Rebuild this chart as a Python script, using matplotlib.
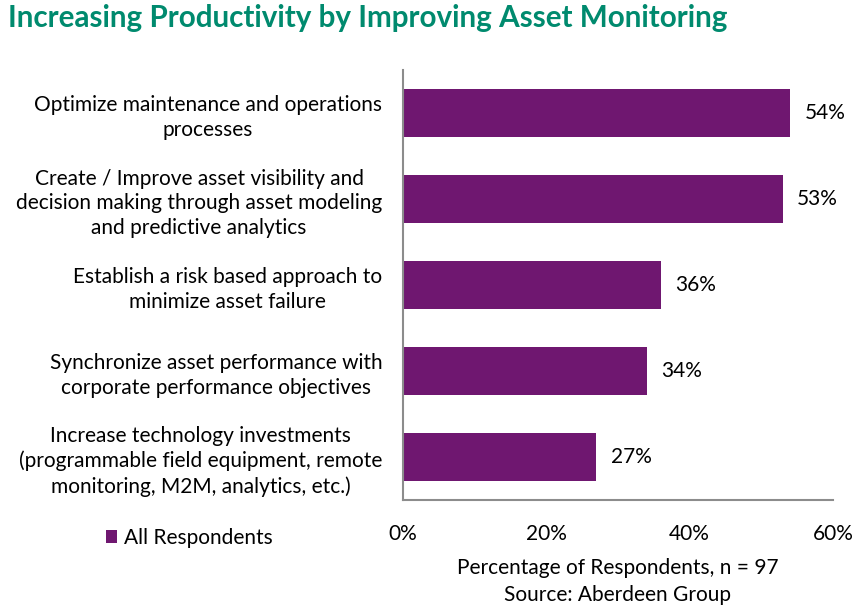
import numpy as np
from matplotlib import pyplot as plt

categories = [
    "Optimize maintenance and operations\nprocesses",
    "Create / Improve asset visibility and\ndecision making through asset modeling\nand predictive analytics",
    "Establish a risk based approach to\nminimize asset failure",
    "Synchronize asset performance with\ncorporate performance objectives",
    "Increase technology investments\n(programmable field equipment, remote\nmonitoring, M2M, analytics, etc.)",
]
values = [54, 53, 36, 34, 27]
xticks = [0, 20, 40, 60]

purple = '#6F1770'
green = '#008A6E'
plt.rcParams['font.family'] = ['Lato', 'DejaVu Sans']

fig = plt.figure(figsize=(8.62, 6.09), dpi=100)
ax = fig.add_axes([403/862, 109/609, 430/862, 430/609])

y = np.arange(len(values))[::-1]
ax.barh(y, values, height=0.56, color=purple, label='All Respondents')
for yi, v in zip(y, values):
    ax.text(v + 2.0, yi, f"{v}%", va='center', ha='left', fontsize=15)

ax.set_xlim(0, 60)
ax.set_ylim(-0.5, len(values) - 0.5)
ax.set_xticks(xticks)
ax.set_xticklabels([f"{t}%" for t in xticks], fontsize=15)
ax.set_yticks(y)
ax.set_yticklabels(categories, fontsize=15, multialignment='center', linespacing=1.3)
ax.tick_params(axis='both', length=0)
ax.tick_params(axis='x', pad=17)
ax.tick_params(axis='y', pad=15)
for s in ['top', 'right']:
    ax.spines[s].set_visible(False)
for s in ['left', 'bottom']:
    ax.spines[s].set_color('#8C8C8C')
    ax.spines[s].set_linewidth(1.5)

ax.set_xlabel("Percentage of Respondents, n = 97\nSource: Aberdeen Group", fontsize=15,
              labelpad=10, linespacing=1.45)

fig.text(8/862, 1 - 18/609, "Increasing Productivity by Improving Asset Monitoring",
         fontsize=21.3, fontweight='bold', color=green, va='center', ha='left')

fig.legend(loc='center left', bbox_to_anchor=(87/862, 1 - 538/609), frameon=False,
           fontsize=15, handlelength=0.55, handleheight=0.55, handletextpad=0.35)

fig.savefig('out.png', dpi=100)
